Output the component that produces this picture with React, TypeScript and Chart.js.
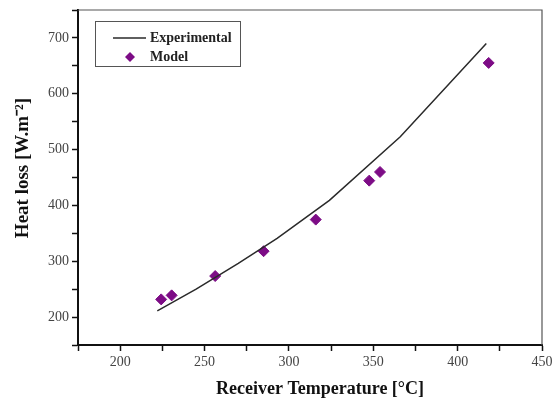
import React, { useEffect, useRef } from "react";
import { Chart, registerables } from "chart.js";

Chart.register(...registerables);

const expTemp = [222, 245, 270, 293, 324, 366, 417];
const expLoss = [211, 250, 296, 341, 409, 523, 690];
const modelTemp = [224.3, 230.5, 256.3, 285, 315.9, 347.6, 354, 418.4];
const modelLoss = [231.7, 238.9, 273.5, 318, 374.6, 444.4, 459.9, 655.2];
const xTicks = [175, 200, 225, 250, 275, 300, 325, 350, 375, 400, 425, 450];
const xLabels = [200, 250, 300, 350, 400, 450];
const yTicks = [150, 200, 250, 300, 350, 400, 450, 500, 550, 600, 650, 700, 750];
const yLabels = [200, 300, 400, 500, 600, 700];
const xTitle = "Receiver Temperature [°C]";
const yTitle = "Heat loss [W.m⁻²]";

const FONT = "'Liberation Serif', 'Times New Roman', serif";

const framePlugin = {
  id: "frame",
  afterDatasetsDraw(chart: any) {
    const { ctx, chartArea: a } = chart;
    ctx.save();
    ctx.strokeStyle = "#555";
    ctx.lineWidth = 1.2;
    ctx.beginPath();
    ctx.moveTo(a.left, a.top);
    ctx.lineTo(a.right, a.top);
    ctx.lineTo(a.right, a.bottom);
    ctx.stroke();
    ctx.restore();
  },
};

const titlesPlugin = {
  id: "axisTitles",
  afterDraw(chart: any) {
    const { ctx } = chart;
    ctx.save();
    ctx.fillStyle = "#111";
    ctx.font = `bold 18px ${FONT}`;
    ctx.textAlign = "center";
    ctx.textBaseline = "middle";
    ctx.fillText(xTitle, 320, 389);
    ctx.translate(23, 168);
    ctx.rotate(-Math.PI / 2);
    ctx.font = `bold 19px ${FONT}`;
    ctx.fillText(yTitle, 0, 0);
    ctx.restore();
  },
};

const legendPlugin = {
  id: "boxLegend",
  afterDraw(chart: any) {
    const { ctx } = chart;
    const ds = chart.data.datasets;
    const x0 = 95, y0 = 21, w = 145, h = 45;
    ctx.save();
    ctx.fillStyle = "#fff";
    ctx.fillRect(x0, y0, w, h);
    ctx.strokeStyle = "#555";
    ctx.lineWidth = 1;
    ctx.strokeRect(x0 + 0.5, y0 + 0.5, w, h);
    ctx.font = `bold 14px ${FONT}`;
    ctx.textBaseline = "middle";
    ctx.fillStyle = "#222";
    ctx.strokeStyle = ds[0].borderColor;
    ctx.lineWidth = 1.5;
    ctx.beginPath();
    ctx.moveTo(113, 38);
    ctx.lineTo(146, 38);
    ctx.stroke();
    ctx.fillText(ds[0].label, 150, 38);
    const cx = 130, cy = 57, r = 5;
    ctx.fillStyle = ds[1].backgroundColor;
    ctx.beginPath();
    ctx.moveTo(cx, cy - r);
    ctx.lineTo(cx + r, cy);
    ctx.lineTo(cx, cy + r);
    ctx.lineTo(cx - r, cy);
    ctx.closePath();
    ctx.fill();
    ctx.fillStyle = "#222";
    ctx.fillText(ds[1].label, 150, 57);
    ctx.restore();
  },
};

export default function App() {
  const ref = useRef<HTMLCanvasElement>(null);
  useEffect(() => {
    const chart = new Chart(ref.current!, {
      type: "scatter",
      data: {
        datasets: [
          {
            label: "Experimental",
            data: expTemp.map((x, i) => ({ x, y: expLoss[i] })),
            showLine: true,
            borderColor: "#2a2a2a",
            borderWidth: 1.5,
            pointRadius: 0,
            tension: 0,
          },
          {
            label: "Model",
            data: modelTemp.map((x, i) => ({ x, y: modelLoss[i] })),
            showLine: false,
            backgroundColor: "#7d0c86",
            borderColor: "#7d0c86",
            pointStyle: "rectRot",
            pointRadius: 5.5,
          },
        ],
      },
      options: {
        responsive: false,
        maintainAspectRatio: false,
        animation: false,
        layout: { padding: { top: 10, right: 10, left: 0, bottom: 0 } },
        plugins: { legend: { display: false }, tooltip: { enabled: false } },
        scales: {
          x: {
            type: "linear",
            min: 175,
            max: 450,
            afterBuildTicks: (s: any) => {
              s.ticks = xTicks.map((v) => ({ value: v }));
            },
            afterFit: (s: any) => {
              s.height = 56;
              s.paddingLeft = 0;
              s.paddingRight = 0;
            },
            border: { color: "#111", width: 2 },
            grid: { drawOnChartArea: false, tickLength: 6, color: "#111", tickWidth: 1.5 },
            ticks: {
              autoSkip: false,
              maxRotation: 0,
              padding: 3,
              color: "#444",
              font: { family: FONT, size: 14 },
              callback: (v: any) => (xLabels.includes(Number(v)) ? String(v) : ""),
            },
            title: { display: false },
          },
          y: {
            type: "linear",
            min: 150,
            max: 750,
            afterBuildTicks: (s: any) => {
              s.ticks = yTicks.map((v) => ({ value: v }));
            },
            afterFit: (s: any) => {
              s.width = 78;
              s.paddingTop = 0;
              s.paddingBottom = 0;
            },
            border: { color: "#111", width: 2 },
            grid: { drawOnChartArea: false, tickLength: 6, color: "#111", tickWidth: 1.5 },
            ticks: {
              autoSkip: false,
              padding: 3,
              color: "#444",
              font: { family: FONT, size: 14 },
              callback: (v: any) => (yLabels.includes(Number(v)) ? String(v) : ""),
            },
            title: { display: false },
          },
        },
      },
      plugins: [framePlugin, legendPlugin, titlesPlugin],
    } as any);
    return () => chart.destroy();
  }, []);
  return (
    <div style={{ position: "absolute", left: 0, top: 0, width: 552, height: 401, background: "#fff" }}>
      <canvas ref={ref} width={552} height={401} />
    </div>
  );
}
